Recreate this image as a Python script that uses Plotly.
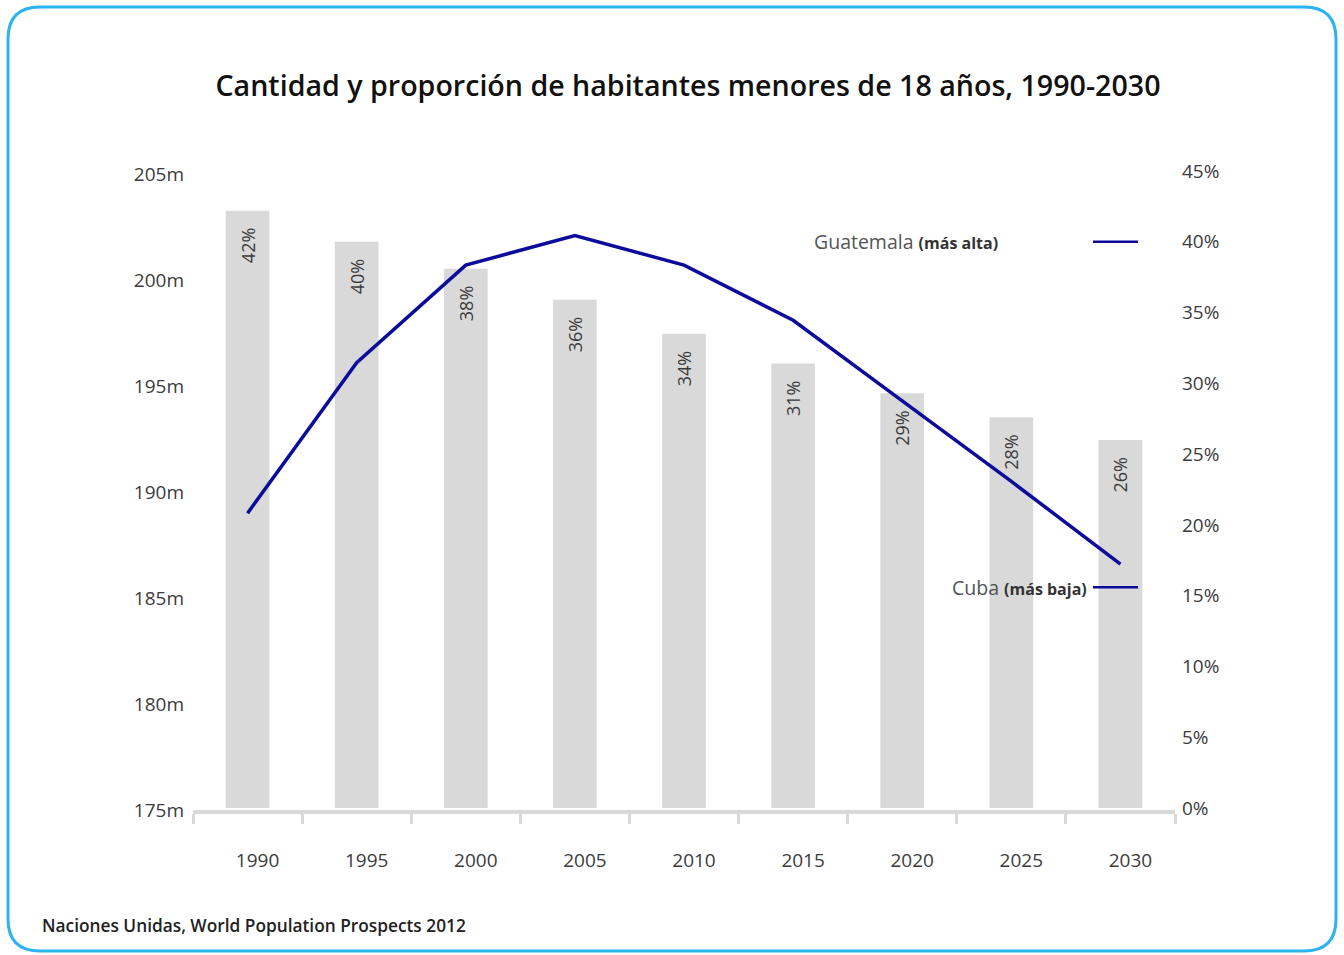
import plotly.graph_objects as go

# ---- data ----
years = ["1990", "1995", "2000", "2005", "2010", "2015", "2020", "2025", "2030"]
share_pct = [42.2, 40.0, 38.1, 35.9, 33.5, 31.4, 29.3, 27.6, 26.0]
share_labels = ["42%", "40%", "38%", "36%", "34%", "31%", "29%", "28%", "26%"]
population_m = [189.0, 196.1, 200.7, 202.1, 200.7, 198.1, 194.3, 190.5, 186.6]
left_ticks = [175, 180, 185, 190, 195, 200, 205]
right_ticks = [0, 5, 10, 15, 20, 25, 30, 35, 40, 45]
ref_countries = ["Guatemala", "Cuba"]
ref_tags = ["(más alta)", "(más baja)"]
ref_values = [40.0, 15.6]

title_text = "Cantidad y proporción de habitantes menores de 18 años, 1990-2030"
source_text = "Naciones Unidas, World Population Prospects 2012"

# ---- layout geometry (pixels) ----
W, H = 1344, 955
PL, PR, PT, PB = 193, 1175, 171, 810
pw, ph = PR - PL, PB - PT


def px(x):
    return (x - PL) / pw


def py(y):
    return (PB - y) / ph


FONT = "Open Sans"
BAR_COLOR = "#d9d9d9"
LINE_COLOR = "#0c0c9c"
TEXT_COLOR = "#3c3c3c"

fig = go.Figure()

# bars on the primary (right-side, percent) axis
fig.add_trace(go.Bar(
    x=years, y=share_pct, yaxis="y",
    text=share_labels,
    texttemplate="%{text}\u00a0\u00a0\u00a0",
    textposition="inside", insidetextanchor="end", textangle=-90,
    insidetextfont=dict(family=FONT, size=18, color="#3a3a3a"),
    marker=dict(color=BAR_COLOR, line=dict(width=0)),
    width=0.4, hoverinfo="skip",
))

# line on the overlaying (left-side, population) axis -> drawn on top
fig.add_trace(go.Scatter(
    x=years, y=population_m, yaxis="y2", mode="lines",
    line=dict(color=LINE_COLOR, width=3.5),
    hoverinfo="skip",
))

shapes = []
annotations = []

# reference markers (Guatemala / Cuba)
line_x0, line_x1 = px(1093), px(1138)
text_right = [px(1000), px(1089)]
for name, tag, val, xr in zip(ref_countries, ref_tags, ref_values, text_right):
    shapes.append(dict(type="line", xref="paper", yref="y",
                       x0=line_x0, x1=line_x1, y0=val, y1=val,
                       line=dict(color=LINE_COLOR, width=2.5)))
    annotations.append(dict(
        xref="paper", yref="y", x=xr, y=val, xanchor="right", yanchor="middle",
        showarrow=False,
        text=f"{name} <b><span style='font-size:16px;color:#333'>{tag}</span></b>",
        font=dict(family=FONT, size=19.5, color="#555555"),
    ))

# source
annotations.append(dict(
    xref="paper", yref="paper", x=px(40), y=py(925), xanchor="left", yanchor="middle",
    showarrow=False, text=source_text,
    font=dict(family=FONT, size=17.3, color="#222222", weight=600),
))

# rounded border
x0, y0, x1, y1, r = 8, 7, 1336, 951, 32
pts = lambda x, y: f"{px(x):.5f},{py(y):.5f}"
path = (f"M {pts(x0 + r, y0)} L {pts(x1 - r, y0)} Q {pts(x1, y0)} {pts(x1, y0 + r)} "
        f"L {pts(x1, y1 - r)} Q {pts(x1, y1)} {pts(x1 - r, y1)} "
        f"L {pts(x0 + r, y1)} Q {pts(x0, y1)} {pts(x0, y1 - r)} "
        f"L {pts(x0, y0 + r)} Q {pts(x0, y0)} {pts(x0 + r, y0)} Z")
shapes.append(dict(type="path", xref="paper", yref="paper", path=path,
                   line=dict(color="#2ab4ee", width=3), fillcolor="rgba(0,0,0,0)",
                   layer="above"))

left_top = 175 + (PB - PT) / 21.2
right_bottom = -2 / 14.16

fig.update_layout(
    width=W, height=H,
    margin=dict(l=PL, r=W - PR, t=PT, b=H - PB, pad=0),
    paper_bgcolor="white", plot_bgcolor="white",
    showlegend=False,
    font=dict(family=FONT, color=TEXT_COLOR),
    title=dict(text=title_text, x=688 / W, xref="container", xanchor="center",
               y=1 - 86 / H, yref="container", yanchor="middle",
               font=dict(family=FONT, size=28.6, color="#111111", weight=600)),
    xaxis=dict(type="category", showgrid=False, zeroline=False,
               showline=True, linecolor=BAR_COLOR, linewidth=4,
               ticks="outside", tickson="boundaries", ticklen=10, tickwidth=3,
               tickcolor=BAR_COLOR,
               tickfont=dict(family=FONT, size=19, color=TEXT_COLOR),
               ticklabelshift=10, ticklabelstandoff=30),
    yaxis=dict(range=[right_bottom, 45], tickvals=right_ticks,
               ticktext=[f"{v}%" for v in right_ticks],
               side="right",
               showgrid=False, zeroline=False, showline=False, ticks="",
               tickfont=dict(family=FONT, size=19, color=TEXT_COLOR),
               ticklabelstandoff=6),
    yaxis2=dict(range=[175, left_top], tickvals=left_ticks,
                ticktext=[f"{v}m" for v in left_ticks],
                overlaying="y", side="left",
                showgrid=False, zeroline=False, showline=False, ticks="",
                tickfont=dict(family=FONT, size=19, color=TEXT_COLOR),
                ticklabelstandoff=8),
    bargap=0.6,
    shapes=shapes, annotations=annotations,
)

fig.write_html("out.html", config={"displayModeBar": False},
               post_script="document.body.style.margin='0';document.body.style.overflow='hidden';")
